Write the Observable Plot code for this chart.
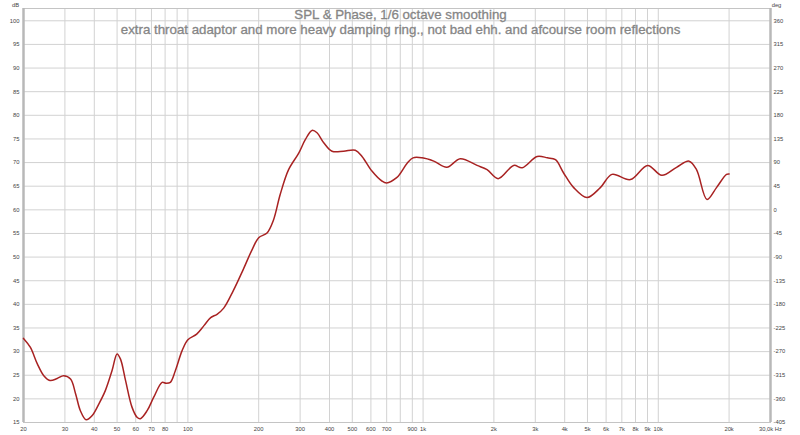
<!DOCTYPE html>
<html>
<head>
<meta charset="utf-8">
<script src="https://cdn.jsdelivr.net/npm/d3@7"></script>
<script src="https://cdn.jsdelivr.net/npm/@observablehq/plot@0.6"></script>
<style>
  html, body { margin: 0; padding: 0; background: #fff; }
  #chart svg { display: block; }
</style>
</head>
<body>
<div id="chart"></div>
<script>
// Frequency response (Hz) and SPL (dB)
const freq = [20, 21.4, 22.9, 24.4, 25.9, 27.8, 29.6, 31.7, 33.3, 34.9, 36.9, 39.2, 41.8, 44.6, 47.6, 50, 51.7, 54.3, 57.9, 60.8, 62.8, 67.1, 71.5, 77.7, 80.7, 84.2, 88.5, 94.5, 100, 109, 117, 125, 133, 142, 156, 172, 188, 200, 217, 231, 247, 268, 296, 316, 337, 354, 378, 410, 459, 515, 550, 606, 668, 700, 772, 800, 857, 906, 990, 1110, 1262, 1438, 1696, 1871, 2086, 2428, 2638, 3056, 3376, 3654, 3958, 4368, 4974, 5670, 6354, 7610, 9010, 10350, 11960, 13520, 14540, 16120, 17680, 19500, 20000];
const spl = [32.8, 30.9, 27.4, 24.9, 23.9, 24.3, 24.9, 24.2, 21.1, 17.5, 15.6, 16.5, 18.9, 21.8, 26.0, 29.5, 28.4, 23.9, 18.2, 16.1, 15.8, 17.5, 20.3, 23.5, 23.3, 23.5, 26.0, 30.2, 32.5, 33.7, 35.5, 37.2, 37.9, 39.2, 42.9, 47.4, 51.7, 54.1, 55.1, 57.8, 63.3, 68.5, 72.0, 74.9, 76.8, 76.3, 74.2, 72.4, 72.4, 72.6, 71.3, 68.2, 66.1, 65.7, 66.8, 67.7, 69.9, 71.0, 71.0, 70.3, 69.0, 70.8, 69.4, 68.5, 66.6, 69.4, 68.9, 71.3, 71.0, 70.6, 67.8, 64.7, 62.6, 64.7, 67.5, 66.4, 69.4, 67.3, 69.0, 70.3, 68.5, 62.2, 64.7, 67.5, 67.6];

// Axis ticks
const dbTicks = [15, 20, 25, 30, 35, 40, 45, 50, 55, 60, 65, 70, 75, 80, 85, 90, 95, 100];
const degTicks = [-405, -360, -315, -270, -225, -180, -135, -90, -45, 0, 45, 90, 135, 180, 225, 270, 315, 360];
const xGrid = [20, 30, 40, 50, 60, 70, 80, 90, 100, 200, 300, 400, 500, 600, 700, 800, 900, 1000, 2000, 3000, 4000, 5000, 6000, 7000, 8000, 9000, 10000, 20000, 30000];
const xTickValues = [20, 30, 40, 50, 60, 70, 80, 100, 200, 300, 400, 500, 600, 700, 900, 1000, 2000, 3000, 4000, 5000, 6000, 7000, 8000, 9000, 10000, 20000, 30000];
const xTickLabels = ["20", "30", "40", "50", "60", "70", "80", "100", "200", "300", "400", "500", "600", "700", "900", "1k", "2k", "3k", "4k", "5k", "6k", "7k", "8k", "9k", "10k", "20k", "30,0k Hz"];

const title = "SPL & Phase, 1/6 octave smoothing";
const subtitle = "extra throat adaptor and more heavy damping ring., not bad ehh. and afcourse room reflections";

const data = freq.map((f, i) => ({f, db: spl[i]}));
const degMap = new Map(dbTicks.map((d, i) => [d, degTicks[i]]));
const xLabels = xTickValues.map((v, i) => ({v, label: xTickLabels[i]}));

const tickFont = 5.8;
const titleColor = "#858585";
const chart = Plot.plot({
  width: 800,
  height: 435,
  marginLeft: 23,
  marginRight: 30,
  marginTop: 8,
  marginBottom: 13,
  style: {fontFamily: "'Liberation Sans', Arial, sans-serif", background: "#fff", color: "#333"},
  x: {type: "log", domain: [20, 30000], axis: null},
  y: {domain: [15, 102.6], axis: null},
  marks: [
    Plot.gridX(xGrid, {stroke: "#d2d2d2", strokeOpacity: 1, strokeWidth: 1}),
    Plot.gridY(dbTicks, {stroke: "#d2d2d2", strokeOpacity: 1, strokeWidth: 1}),
    Plot.frame({stroke: "#c4c4c4", strokeWidth: 1}),
    Plot.ruleX([20, 30000], {stroke: "#b8b8b8", strokeWidth: 2.5}),
    Plot.line(data, {x: "f", y: "db", curve: "catmull-rom", stroke: "#a82222", strokeWidth: 1.5}),
    Plot.axisY(dbTicks, {anchor: "left", tickSize: 0, tickPadding: 4, fontSize: tickFont, fill: "#444", label: null}),
    Plot.axisY(dbTicks, {anchor: "right", tickSize: 0, tickPadding: 3, fontSize: tickFont, fill: "#444", label: null, tickFormat: d => degMap.get(d)}),
    Plot.text(xLabels, {x: "v", text: "label", frameAnchor: "bottom", dy: 4, lineAnchor: "top", textAnchor: "middle", fontSize: tickFont, fill: "#444"}),
    Plot.text(["dB"], {frameAnchor: "top-left", dx: -8, dy: -2, lineAnchor: "bottom", textAnchor: "middle", fontSize: tickFont, fill: "#444"}),
    Plot.text(["deg"], {frameAnchor: "top-right", dx: 6, dy: -2, lineAnchor: "bottom", textAnchor: "middle", fontSize: tickFont, fill: "#444"}),
    Plot.text([title], {frameAnchor: "top", dx: 3.5, dy: 10, lineAnchor: "bottom", fontSize: 13.3, fill: titleColor, stroke: titleColor, strokeWidth: 0.3}),
    Plot.text([subtitle], {frameAnchor: "top", dx: 3.5, dy: 25.5, lineAnchor: "bottom", fontSize: 13.3, fill: titleColor, stroke: titleColor, strokeWidth: 0.3})
  ]
});
document.getElementById("chart").appendChild(chart);
</script>
</body>
</html>
